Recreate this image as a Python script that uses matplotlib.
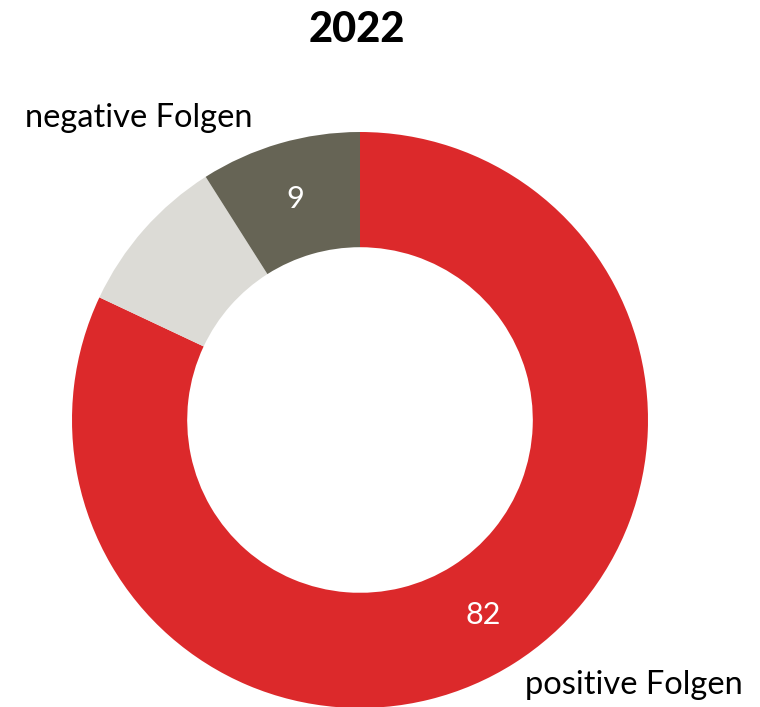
import matplotlib
matplotlib.use('Agg')
import matplotlib.pyplot as plt
import numpy as np

# Data
categories = ['positive Folgen', 'weiß nicht', 'negative Folgen']
values = [82, 9, 9]
shown = ['82', '', '9']
colors = ['#dc292b', '#dcdbd6', '#666455']

W, H = 760, 707
fig = plt.figure(figsize=(W / 100, H / 100), dpi=100)
plt.rcParams['font.family'] = ['Lato', 'DejaVu Sans']

# donut centre (px) and outer radius
cx, cy, r = 360, 420, 288
ax = fig.add_axes([(cx - r) / W, (H - cy - r) / H, 2 * r / W, 2 * r / H])

wedges, _ = ax.pie(values, colors=colors, startangle=90, counterclock=False,
                   radius=1.0, wedgeprops=dict(width=0.4, linewidth=0))
ax.set_xlim(-1, 1)
ax.set_ylim(-1, 1)
ax.set_aspect('equal')
ax.axis('off')

# value labels in middle of the ring
for w, txt in zip(wedges, shown):
    if not txt:
        continue
    ang = np.deg2rad((w.theta1 + w.theta2) / 2)
    ax.text(0.8 * np.cos(ang), 0.8 * np.sin(ang), txt, color='white',
            fontsize=22, ha='center', va='center')

fig.text(357 / W, 1 - 30 / H, '2022', fontsize=30, fontweight='black',
         ha='center', va='center')
fig.text(25 / W, 1 - 118 / H, 'negative Folgen', fontsize=23.5,
         ha='left', va='center')
fig.text(743 / W, 1 - 685 / H, 'positive Folgen', fontsize=23.5,
         ha='right', va='center')

fig.savefig('out.png', dpi=100)
